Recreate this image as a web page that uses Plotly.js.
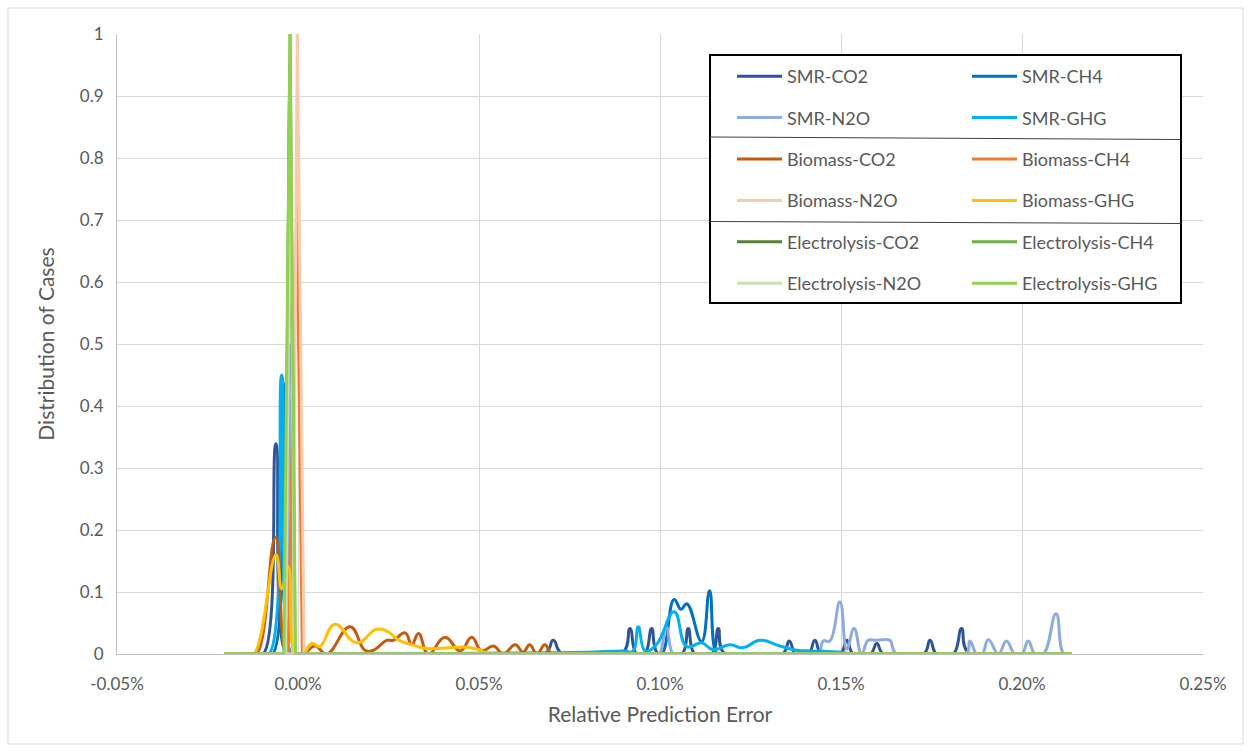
<!DOCTYPE html>
<html>
<head>
<meta charset="utf-8">
<script src="https://cdn.plot.ly/plotly-3.0.1.min.js"></script>
<style>
  html, body { margin: 0; padding: 0; background: #ffffff; }
  #chart { width: 1251px; height: 752px; }
</style>
</head>
<body>
<div id="chart"></div>
<script>
// ---- Data (x in %, y = distribution of cases) ----
const seriesNames = ["SMR-CO2", "SMR-CH4", "SMR-N2O", "SMR-GHG",
  "Biomass-CO2", "Biomass-CH4", "Biomass-N2O", "Biomass-GHG",
  "Electrolysis-CO2", "Electrolysis-CH4", "Electrolysis-N2O", "Electrolysis-GHG"];

const smrCO2_x = [-0.0204, -0.0118, -0.0096, -0.0061, -0.0032, -0.0014, 0.0680, 0.0705, 0.0730, 0.0895, 0.0917, 0.0935, 0.0958, 0.0977, 0.0995, 0.1060, 0.1078, 0.1096, 0.1143, 0.1161, 0.1179, 0.1338, 0.1357, 0.1375, 0.1410, 0.1428, 0.1446, 0.1498, 0.1516, 0.1534, 0.1581, 0.1599, 0.1617, 0.1728, 0.1746, 0.1764, 0.1810, 0.1833, 0.1855, 0.2138];
const smrCO2_y = [0, 0, 0, 0.339, 0, 0, 0, 0.022, 0, 0, 0.041, 0, 0, 0.041, 0, 0, 0.041, 0, 0, 0.041, 0, 0, 0.021, 0, 0, 0.022, 0, 0, 0.022, 0, 0, 0.017, 0, 0, 0.022, 0, 0, 0.041, 0, 0];

const smrCH4_x = [-0.0204, -0.0088, -0.0070, -0.0042, -0.0018, -0.0004, 0.0990, 0.1005, 0.1039, 0.1058, 0.1074, 0.1115, 0.1137, 0.1157, 0.1172, 0.2138];
const smrCH4_y = [0, 0, 0, 0.44, 0, 0, 0, 0, 0.088, 0.072, 0.081, 0.020, 0.102, 0, 0, 0];

const smrN2O_x = [-0.0204, -0.0058, -0.0043, -0.0024, -0.0006, 0.0009, 0.0982, 0.0998, 0.1017, 0.1036, 0.1052, 0.1430, 0.1440, 0.1451, 0.1469, 0.1497, 0.1516, 0.1536, 0.1557, 0.1575, 0.1595, 0.1615, 0.1635, 0.1654, 0.1845, 0.1856, 0.1875, 0.1890, 0.1907, 0.1935, 0.1957, 0.1980, 0.2000, 0.2017, 0.2036, 0.2059, 0.2094, 0.2116, 0.2138];
const smrN2O_y = [0, 0, 0, 0.50, 0, 0, 0, 0, 0.044, 0, 0, 0, 0, 0.021, 0.021, 0.084, 0.008, 0.041, 0, 0.022, 0.022, 0.023, 0.022, 0, 0, 0.021, 0, 0, 0.023, 0, 0.021, 0, 0, 0.021, 0, 0, 0.065, 0, 0];

const smrGHG_x = [-0.0204, -0.0100, -0.0080, -0.0045, -0.0018, -0.0004, 0.0005, 0.0400, 0.0700, 0.0800, 0.0900, 0.0925, 0.0940, 0.0959, 0.0990, 0.1039, 0.1074, 0.1115, 0.1146, 0.1193, 0.1229, 0.1276, 0.1331, 0.1378, 0.1420, 0.1500, 0.1530, 0.2138];
const smrGHG_y = [0, 0, 0, 0.45, 0, 0, 0, 0.001, 0.002, 0.003, 0.005, 0.004, 0.044, 0.005, 0.015, 0.068, 0.012, 0.018, 0.007, 0.015, 0.010, 0.022, 0.013, 0.006, 0.005, 0.003, 0, 0];

const bioCO2_x = [-0.0204, -0.0135, -0.0115, -0.0062, -0.0030, -0.0015, 0.0015, 0.0047, 0.0079, 0.0144, 0.0185, 0.0208, 0.0245, 0.0263, 0.0296, 0.0314, 0.0333, 0.0360, 0.0406, 0.0448, 0.0480, 0.0507, 0.0540, 0.0567, 0.0600, 0.0622, 0.0640, 0.0660, 0.0682, 0.0700, 0.0720, 0.2138];
const bioCO2_y = [0, 0, 0, 0.188, 0, 0, 0, 0.013, 0, 0.044, 0.006, 0.006, 0.022, 0.022, 0.034, 0.015, 0.033, 0, 0.027, 0.005, 0.027, 0.005, 0.013, 0, 0.015, 0.003, 0.015, 0, 0.015, 0, 0, 0];

const bioCH4_x = [-0.0204, -0.0027, -0.0003, 0.0012, 0.2138];
const bioCH4_y = [0, 0, 0.725, 0, 0];

const bioN2O_x = [-0.0204, -0.0014, -0.0002, 0.0017, 0.2138];
const bioN2O_y = [0, 0, 1.0, 0, 0];

const bioGHG_x = [-0.0204, -0.0140, -0.0122, -0.0061, -0.0045, -0.0027, -0.0008, 0.0005, 0.0015, 0.0038, 0.0060, 0.0102, 0.0162, 0.0217, 0.0245, 0.0280, 0.0320, 0.0355, 0.0438, 0.0466, 0.0494, 0.0530, 0.0550, 0.2138];
const bioGHG_y = [0, 0, 0, 0.160, 0.105, 0.141, 0, 0, 0, 0.017, 0.012, 0.048, 0.018, 0.040, 0.037, 0.022, 0.014, 0.009, 0.011, 0.011, 0.008, 0, 0, 0];

const eleCO2_x = [-0.0204, -0.0036, -0.0023, -0.0009, 0.2138];
const eleCO2_y = [0, 0, 0.95, 0, 0];

const eleCH4_x = [-0.0204, -0.0037, -0.0022, -0.0008, 0.2138];
const eleCH4_y = [0, 0, 1.0, 0, 0];

const eleN2O_x = [-0.0204, -0.0034, -0.0021, -0.0010, 0.2138];
const eleN2O_y = [0, 0, 0.9, 0, 0];

const eleGHG_x = [-0.0204, -0.0039, -0.0022, -0.0007, 0.2138];
const eleGHG_y = [0, 0, 1.0, 0, 0];

const xTickVals = [-0.05, 0, 0.05, 0.10, 0.15, 0.20, 0.25];
const xTickText = ["-0.05%", "0.00%", "0.05%", "0.10%", "0.15%", "0.20%", "0.25%"];
const yTickVals = [0, 0.1, 0.2, 0.3, 0.4, 0.5, 0.6, 0.7, 0.8, 0.9, 1];
const yTickText = ["0", "0.1", "0.2", "0.3", "0.4", "0.5", "0.6", "0.7", "0.8", "0.9", "1"];

// ---- Styling ----
const seriesX = [smrCO2_x, smrCH4_x, smrN2O_x, smrGHG_x, bioCO2_x, bioCH4_x, bioN2O_x, bioGHG_x, eleCO2_x, eleCH4_x, eleN2O_x, eleGHG_x];
const seriesY = [smrCO2_y, smrCH4_y, smrN2O_y, smrGHG_y, bioCO2_y, bioCH4_y, bioN2O_y, bioGHG_y, eleCO2_y, eleCH4_y, eleN2O_y, eleGHG_y];
const colors = ["#2F5597", "#0070C0", "#8FAADC", "#00B0F0",
  "#C55A11", "#ED7D31", "#F8CBAD", "#FFC000",
  "#548235", "#70AD47", "#C5E0B4", "#92D050"];
// single tall spikes are drawn with straight legs, as in the reference
const straightLegs = [false, false, false, false, false, true, true, false, true, true, true, true];

const FONT = "Lato, 'Open Sans', sans-serif";
const GREY = "#595959";

const traces = seriesNames.map((name, i) => ({
  type: "scatter",
  mode: "lines",
  name: name,
  x: seriesX[i],
  y: seriesY[i],
  line: straightLegs[i]
    ? { color: colors[i], width: 3, shape: "linear" }
    : { color: colors[i], width: 3, shape: "spline", smoothing: 1.3 },
  legend: (i % 2 === 0) ? "legend" : "legend2",
  legendgroup: "g" + i,
  hoverinfo: "x+y+name"
}));

// plot-area pixel helpers for paper coords
const L = 117, R = 48, T = 34, B = 98, W = 1251, H = 752;
const pw = W - L - R, ph = H - T - B;
const px = v => (v - L) / pw;
const py = v => (H - B - v) / ph;

const legendCommon = {
  xanchor: "left", yanchor: "top",
  bgcolor: "rgba(0,0,0,0)", borderwidth: 0,
  font: { family: FONT, size: 18, color: GREY },
  traceorder: "grouped", tracegroupgap: 15, itemwidth: 45
};

const layout = {
  width: W, height: H,
  margin: { l: L, r: R, t: T, b: B, autoexpand: false },
  paper_bgcolor: "#ffffff",
  plot_bgcolor: "#ffffff",
  font: { family: FONT, color: GREY },
  showlegend: true,
  xaxis: {
    range: [-0.05, 0.25],
    tickmode: "array",
    tickvals: xTickVals,
    ticktext: xTickText,
    showgrid: true, gridcolor: "#D9D9D9", gridwidth: 1,
    zeroline: false,
    showline: true, linecolor: "#BFBFBF", linewidth: 1,
    ticks: "",
    ticklabelstandoff: 15,
    tickfont: { family: FONT, size: 17, color: GREY },
    title: { text: "Relative Prediction Error", font: { family: FONT, size: 21, color: GREY }, standoff: 13 },
    automargin: false, fixedrange: true
  },
  yaxis: {
    range: [0, 1],
    tickmode: "array",
    tickvals: yTickVals,
    ticktext: yTickText,
    showgrid: true, gridcolor: "#D9D9D9", gridwidth: 1,
    zeroline: false,
    showline: true, linecolor: "#BFBFBF", linewidth: 1,
    ticks: "",
    ticklabelstandoff: 9,
    tickfont: { family: FONT, size: 17, color: GREY },
    title: { text: "Distribution of Cases", font: { family: FONT, size: 21, color: GREY }, standoff: 19 },
    automargin: false, fixedrange: true
  },
  legend: Object.assign({ x: px(732), y: py(58) }, legendCommon),
  legend2: Object.assign({ x: px(967), y: py(58) }, legendCommon),
  shapes: [
    // outer chart border
    { type: "rect", xref: "paper", yref: "paper", x0: px(8), x1: px(1243), y0: py(744), y1: py(8),
      line: { color: "#D9D9D9", width: 1 }, fillcolor: "rgba(0,0,0,0)", layer: "below" },
    // legend box
    { type: "rect", xref: "paper", yref: "paper", x0: px(710), x1: px(1181), y0: py(303), y1: py(55),
      line: { color: "#000000", width: 2 }, fillcolor: "#ffffff", layer: "above" },
    { type: "line", xref: "paper", yref: "paper", x0: px(710), x1: px(1181), y0: py(137), y1: py(139.5),
      line: { color: "#404040", width: 1 } },
    { type: "line", xref: "paper", yref: "paper", x0: px(710), x1: px(1181), y0: py(221.5), y1: py(223.5),
      line: { color: "#404040", width: 1 } }
  ]
};

Plotly.newPlot("chart", traces, layout, { displayModeBar: false });
</script>
</body>
</html>
